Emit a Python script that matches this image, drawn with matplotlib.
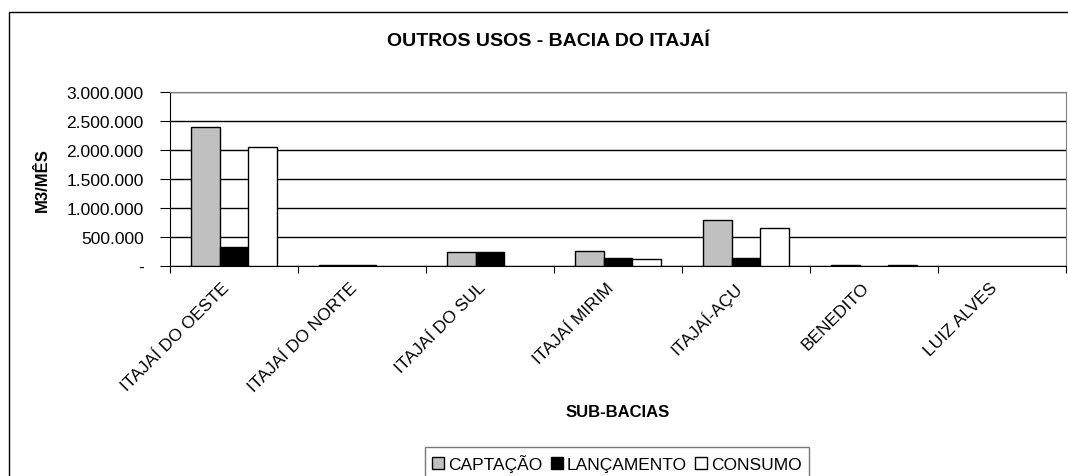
import matplotlib
matplotlib.use("Agg")
import matplotlib.pyplot as plt
import numpy as np
from matplotlib.patches import Rectangle
from matplotlib.ticker import FuncFormatter
from matplotlib.transforms import ScaledTranslation

plt.rcParams['font.family'] = ['Liberation Sans', 'DejaVu Sans']

# sub-bacias and monthly volumes (m3/mes)
sub_bacias = ["ITAJAÍ DO OESTE", "ITAJAÍ DO NORTE", "ITAJAÍ DO SUL", "ITAJAÍ MIRIM",
              "ITAJAÍ-AÇU", "BENEDITO", "LUIZ ALVES"]
captacao = [2390000, 20000, 240000, 265000, 800000, 20000, 0]
lancamento = [330000, 20000, 240000, 145000, 145000, 0, 0]
consumo = [2050000, 0, 0, 120000, 650000, 20000, 0]

series = [("CAPTAÇÃO", captacao, "#c0c0c0"),
          ("LANÇAMENTO", lancamento, "#000000"),
          ("CONSUMO", consumo, "#ffffff")]

fig = plt.figure(figsize=(10.68, 4.77), dpi=100)
ax = fig.add_axes([170 / 1068, 1 - 267 / 477, 896 / 1068, 174 / 477])

x = np.arange(len(sub_bacias))
w = 0.226
for i, (name, vals, col) in enumerate(series):
    # empty entries get no outline, so nothing shows on the axis
    lws = [1 if v else 0 for v in vals]
    ax.bar(x + (i - 1) * w, vals, width=w, color=col, edgecolor="black",
           linewidth=lws, label=name, zorder=3)

ax.set_xlim(-0.5, len(sub_bacias) - 0.5)
ax.set_ylim(0, 3000000)
ax.set_yticks(np.arange(0, 3000001, 500000))


def fmt(v, pos):
    if v == 0:
        return "-"
    return f"{int(v):,}".replace(",", ".")


ax.yaxis.set_major_formatter(FuncFormatter(fmt))
ax.grid(axis="y", color="black", linewidth=1, zorder=0)

# category labels drawn by hand, ticks sit on the category boundaries
ax.set_xticks(np.arange(-0.5, len(sub_bacias), 1))
ax.set_xticklabels([])
ax.tick_params(axis="x", length=5, direction="out", color="black")
ax.tick_params(axis="y", length=7, direction="out", labelsize=12.5, pad=12)
lab_tr = ax.get_xaxis_transform() + ScaledTranslation(-7 / 100, -19 / 100, fig.dpi_scale_trans)
for xi, name in zip(x, sub_bacias):
    ax.text(xi, 0, name, transform=lab_tr, rotation=45, rotation_mode="anchor",
            ha="right", va="center", fontsize=12.5)

for side in ["top", "right"]:
    ax.spines[side].set_color("#808080")
for side in ["left", "bottom"]:
    ax.spines[side].set_color("black")

fig.text(548 / 1068, 1 - 42 / 477, "OUTROS USOS - BACIA DO ITAJAÍ",
         ha="center", va="center", fontsize=14, fontweight="bold")
fig.text(618 / 1068, 1 - 413 / 477, "SUB-BACIAS",
         ha="center", va="center", fontsize=12, fontweight="bold")
fig.text(42 / 1068, 1 - 180 / 477, "M3/MÊS", rotation=90,
         ha="center", va="center", fontsize=12, fontweight="bold")

leg = fig.legend(loc="upper center", bbox_to_anchor=(617 / 1068, 1 - 448 / 477),
                 ncol=3, frameon=True, fancybox=False, fontsize=12.5,
                 handlelength=0.7, handleheight=0.7, handletextpad=0.25,
                 columnspacing=0.45, borderpad=0.4, borderaxespad=0)
leg.get_frame().set_edgecolor("#555555")
leg.get_frame().set_linewidth(1)

# outer chart frame, cut off by the image on the right and bottom
fig.patches.append(Rectangle((9 / 1068, -0.1), 1.2, 1 - 13 / 477 + 0.1,
                             transform=fig.transFigure, fill=False,
                             edgecolor="black", linewidth=1))

fig.savefig("out.png", dpi=100)
